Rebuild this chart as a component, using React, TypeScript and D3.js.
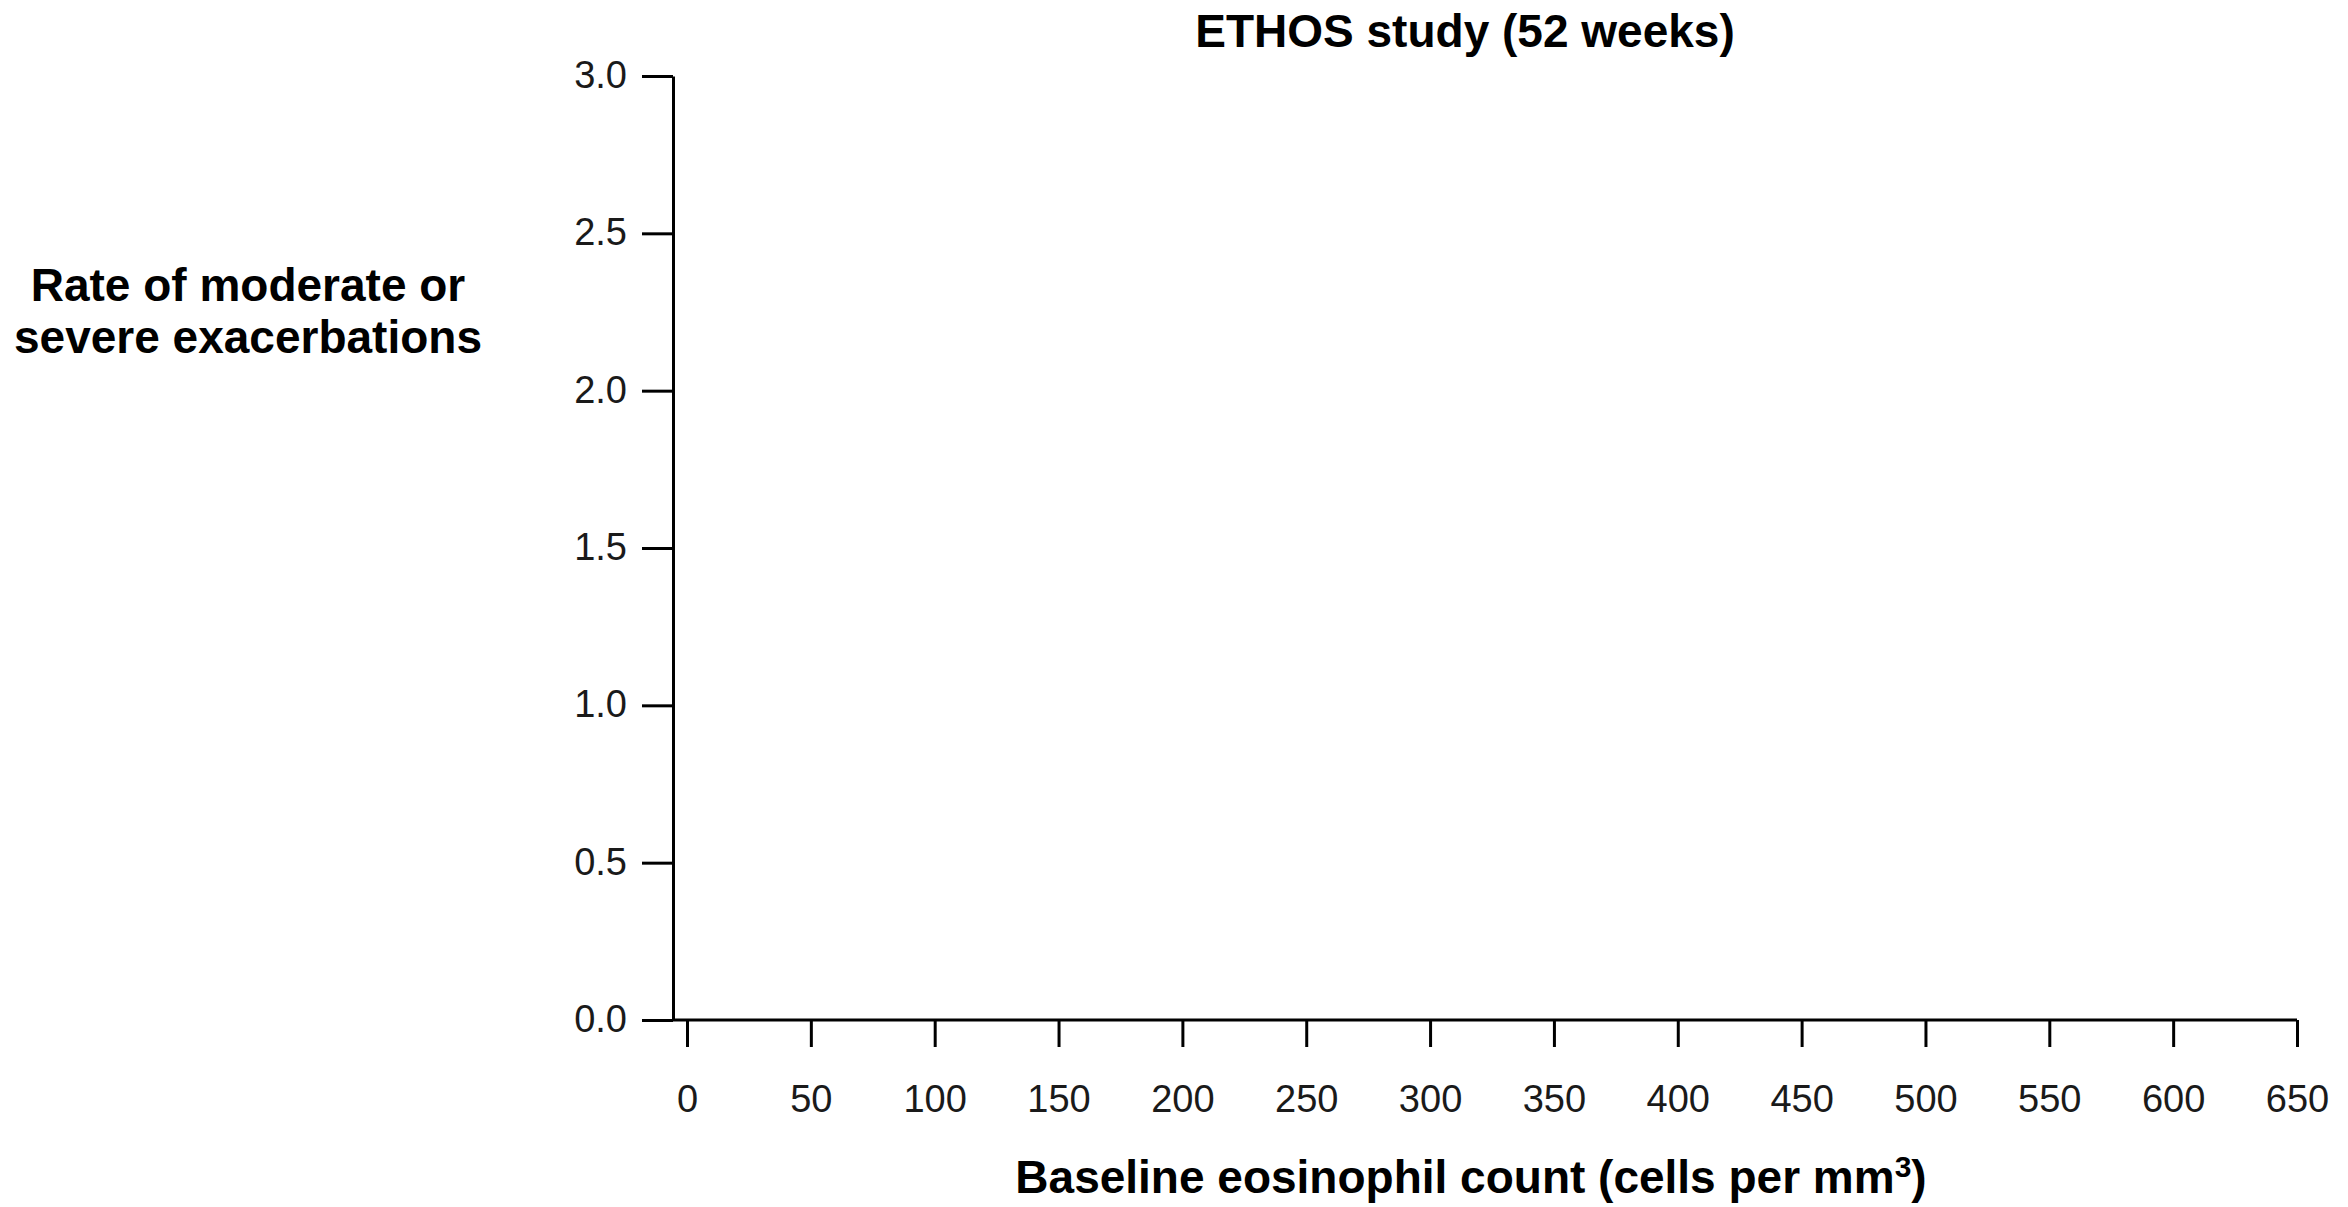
import * as d3 from "d3";
import { useEffect, useRef } from "react";

const W = 2348;
const H = 1207;

// axis ticks (the plot itself is empty)
const xTicks = [0, 50, 100, 150, 200, 250, 300, 350, 400, 450, 500, 550, 600, 650];
const yTicks = [0, 0.5, 1.0, 1.5, 2.0, 2.5, 3.0];
const xDomain = [0, 650];
const yDomain = [0, 3];

const titleText = "ETHOS study (52 weeks)";
const yTitleLines = ["Rate of moderate or", "severe exacerbations"];

const FONT = "'Liberation Sans', Arial, Helvetica, sans-serif";

export default function App() {
  const ref = useRef<SVGSVGElement | null>(null);

  useEffect(() => {
    const svg = d3.select(ref.current);
    svg.selectAll("*").remove();

    const yAxisX = 673;
    const x = d3.scaleLinear().domain(xDomain).range([687, 2297]);
    const y = d3.scaleLinear().domain(yDomain).range([1020, 76]);

    // y axis
    const gy = svg
      .append("g")
      .attr("transform", `translate(${yAxisX},0)`)
      .call(
        d3
          .axisLeft(y)
          .tickValues(yTicks)
          .tickFormat(d3.format(".1f"))
          .tickSize(31)
          .tickSizeOuter(0)
          .tickPadding(15)
      );
    gy.selectAll("path, line").attr("stroke", "#000").attr("stroke-width", 3);
    gy.selectAll("text")
      .attr("font-family", FONT)
      .attr("font-size", 38)
      .attr("fill", "#1a1a1a")
      .attr("dy", "0.3em");

    // x axis
    const gx = svg
      .append("g")
      .attr("transform", `translate(0,${y(0)})`)
      .call(
        d3
          .axisBottom(x)
          .tickValues(xTicks)
          .tickSize(27)
          .tickSizeOuter(0)
          .tickPadding(38)
      );
    // baseline runs from the y axis to the last tick
    gx.select(".domain").attr("d", `M${yAxisX},0H${x(xDomain[1])}`);
    gx.selectAll("path, line").attr("stroke", "#000").attr("stroke-width", 3);
    gx.selectAll("text")
      .attr("font-family", FONT)
      .attr("font-size", 38)
      .attr("fill", "#1a1a1a");

    // title
    svg
      .append("text")
      .attr("x", 1465)
      .attr("y", 47)
      .attr("text-anchor", "middle")
      .attr("font-family", FONT)
      .attr("font-weight", "bold")
      .attr("font-size", 46)
      .text(titleText);

    // x axis title with superscript
    const xt = svg
      .append("text")
      .attr("x", 1471)
      .attr("y", 1193)
      .attr("text-anchor", "middle")
      .attr("font-family", FONT)
      .attr("font-weight", "bold")
      .attr("font-size", 46)
      .text("Baseline eosinophil count (cells per mm");
    xt.append("tspan").attr("font-size", 30).attr("dy", -16).text("3");
    xt.append("tspan").attr("dy", 16).text(")");

    // y axis title, horizontal, two lines
    svg
      .append("g")
      .selectAll("text")
      .data(yTitleLines)
      .enter()
      .append("text")
      .attr("x", 248)
      .attr("y", (d, i) => 301 + i * 52)
      .attr("text-anchor", "middle")
      .attr("font-family", FONT)
      .attr("font-weight", "bold")
      .attr("font-size", 46)
      .text((d) => d);
  }, []);

  return (
    <svg
      ref={ref}
      width={W}
      height={H}
      style={{ position: "absolute", left: 0, top: 0, background: "#fff" }}
    />
  );
}
